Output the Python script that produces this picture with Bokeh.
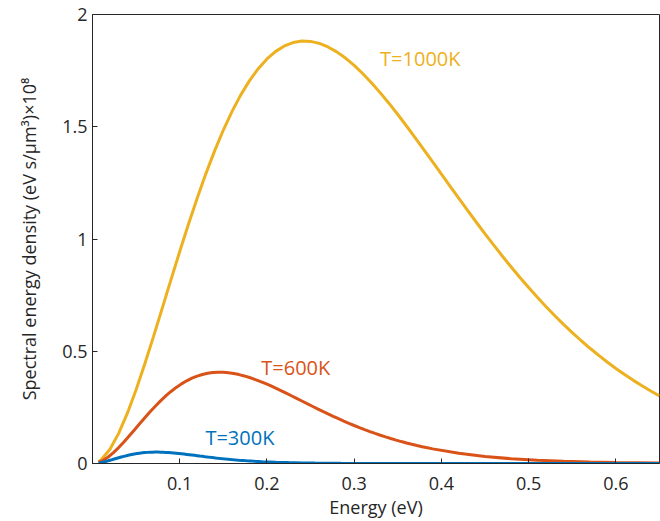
from bokeh.plotting import figure
from bokeh.models import FixedTicker, Range1d
from bokeh.core.properties import value
from bokeh.embed import file_html
from bokeh.resources import INLINE

# ---- data ----
e_1000 = [0.007, 0.01, 0.02, 0.03, 0.04, 0.05, 0.06, 0.07, 0.08, 0.09, 0.10,
          0.11, 0.12, 0.13, 0.14, 0.15, 0.16, 0.17, 0.18, 0.19, 0.20,
          0.21, 0.22, 0.23, 0.24, 0.25, 0.26, 0.27, 0.28, 0.29, 0.30,
          0.31, 0.32, 0.33, 0.34, 0.35, 0.36, 0.37, 0.38, 0.39, 0.40,
          0.41, 0.42, 0.43, 0.44, 0.45, 0.46, 0.47, 0.48, 0.49, 0.50,
          0.51, 0.52, 0.53, 0.54, 0.55, 0.56, 0.57, 0.58, 0.59, 0.60,
          0.61, 0.62, 0.63, 0.64, 0.65]
u_1000 = [0.0084, 0.0168, 0.0634, 0.1342, 0.2242, 0.3289, 0.4441, 0.5663, 0.6922, 0.8190, 0.9442,
          1.0657, 1.1819, 1.2913, 1.3927, 1.4854, 1.5686, 1.6420, 1.7055, 1.7588, 1.8021,
          1.8357, 1.8599, 1.8750, 1.8816, 1.8802, 1.8713, 1.8555, 1.8336, 1.8059, 1.7733,
          1.7362, 1.6952, 1.6509, 1.6039, 1.5545, 1.5034, 1.4509, 1.3974, 1.3433, 1.2890,
          1.2347, 1.1807, 1.1273, 1.0746, 1.0230, 0.9724, 0.9231, 0.8751, 0.8286, 0.7836,
          0.7402, 0.6984, 0.6583, 0.6199, 0.5831, 0.5479, 0.5144, 0.4825, 0.4522, 0.4234,
          0.3962, 0.3703, 0.3460, 0.3229, 0.3012]

e_600 = [0.007, 0.012, 0.018, 0.024, 0.030, 0.036, 0.042, 0.048, 0.054, 0.060,
         0.066, 0.072, 0.078, 0.084, 0.090, 0.096, 0.102, 0.108, 0.114, 0.120,
         0.126, 0.132, 0.138, 0.144, 0.150, 0.156, 0.162, 0.168, 0.174, 0.180,
         0.186, 0.192, 0.198, 0.204, 0.210, 0.216, 0.222, 0.228, 0.234, 0.240,
         0.246, 0.252, 0.258, 0.264, 0.270, 0.276, 0.282, 0.288, 0.294, 0.300,
         0.306, 0.312, 0.318, 0.324, 0.330, 0.336, 0.342, 0.348, 0.354, 0.360,
         0.366, 0.372, 0.378, 0.384, 0.390, 0.42, 0.45, 0.48, 0.51, 0.54,
         0.57, 0.60, 0.65]
u_600 = [0.0049, 0.01369, 0.02898, 0.04842, 0.07103, 0.09593, 0.12233, 0.14952, 0.17690, 0.20394,
         0.23019, 0.25528, 0.27891, 0.30082, 0.32084, 0.33882, 0.35468, 0.36838, 0.37989, 0.38925,
         0.39652, 0.40173, 0.40499, 0.40642, 0.40611, 0.40419, 0.40079, 0.39605, 0.39007, 0.38302,
         0.37500, 0.36616, 0.35659, 0.34643, 0.33577, 0.32473, 0.31338, 0.30183, 0.29016, 0.27842,
         0.26669, 0.25503, 0.24349, 0.23212, 0.22096, 0.21003, 0.19938, 0.18902, 0.17897, 0.16926,
         0.15989, 0.15086, 0.14220, 0.13389, 0.12594, 0.11835, 0.11111, 0.10422, 0.09767, 0.09146,
         0.08557, 0.07999, 0.07473, 0.06975, 0.06506, 0.04548, 0.03130, 0.02127, 0.01428, 0.00949,
         0.00625, 0.00408, 0.00197]

e_300 = [0.007, 0.009, 0.012, 0.015, 0.018, 0.021, 0.024, 0.027, 0.030,
         0.033, 0.036, 0.039, 0.042, 0.045, 0.048, 0.051, 0.054, 0.057, 0.060,
         0.063, 0.066, 0.069, 0.072, 0.075, 0.078, 0.081, 0.084, 0.087, 0.090,
         0.093, 0.096, 0.099, 0.102, 0.105, 0.108, 0.111, 0.114, 0.117, 0.120,
         0.123, 0.126, 0.129, 0.132, 0.135, 0.138, 0.141, 0.144, 0.147, 0.150,
         0.153, 0.156, 0.159, 0.162, 0.165, 0.168, 0.171, 0.174, 0.177, 0.180,
         0.183, 0.186, 0.189, 0.192, 0.195, 0.21, 0.225, 0.24, 0.255, 0.27,
         0.285, 0.30, 0.325, 0.40, 0.50, 0.65]
u_300 = [0.00228, 0.003622, 0.006053, 0.008880, 0.011992, 0.015291, 0.018690, 0.022113, 0.025493,
         0.028775, 0.031911, 0.034864, 0.037603, 0.040105, 0.042352, 0.044335, 0.046048, 0.047487, 0.048658,
         0.049565, 0.050217, 0.050625, 0.050803, 0.050765, 0.050525, 0.050099, 0.049506, 0.048760, 0.047878,
         0.046876, 0.045770, 0.044574, 0.043304, 0.041972, 0.040592, 0.039173, 0.037730, 0.036270, 0.034803,
         0.033336, 0.031879, 0.030437, 0.029015, 0.027620, 0.026254, 0.024923, 0.023628, 0.022372, 0.021158,
         0.019986, 0.018858, 0.017775, 0.016736, 0.015743, 0.014794, 0.013889, 0.013028, 0.012209, 0.011432,
         0.010696, 0.009999, 0.009341, 0.008719, 0.008133, 0.005684, 0.003913, 0.002659, 0.001785, 0.001186,
         0.000781, 0.000510, 0.000246, 0.000025, 0.0, 0.0]

x_ticks = [0.1, 0.2, 0.3, 0.4, 0.5, 0.6]
x_tick_labels = ["0.1", "0.2", "0.3", "0.4", "0.5", "0.6"]
y_ticks = [0, 0.5, 1, 1.5, 2]
y_tick_labels = ["0", "0.5", "1", "1.5", "2"]

label_text = ["T=1000K", "T=600K", "T=300K"]
label_x = [0.3297, 0.1935, 0.1294]
label_y = [1.805, 0.4285, 0.117]

colors = ["#EDB120", "#D95319", "#0072BD"]
FONT = "Open Sans"
AX = "#262626"

p = figure(width=660, height=521, output_backend="svg", toolbar_location=None,
           x_range=Range1d(0, 0.65), y_range=Range1d(0, 2),
           min_border_left=92, min_border_right=1, min_border_top=14, min_border_bottom=58)

p.line(e_1000, u_1000, line_color=colors[0], line_width=3)
p.line(e_600, u_600, line_color=colors[1], line_width=3)
p.line(e_300, u_300, line_color=colors[2], line_width=3)

p.text(x=label_x, y=label_y, text=label_text, text_color=colors,
       text_font=value(FONT), text_font_size="20px",
       text_align="left", text_baseline="middle")

p.xgrid.visible = False
p.ygrid.visible = False
p.outline_line_color = AX
p.outline_line_width = 1
p.background_fill_color = "white"
p.border_fill_color = "white"

p.xaxis.ticker = FixedTicker(ticks=x_ticks)
p.xaxis.major_label_overrides = dict(zip(x_ticks, x_tick_labels))
p.yaxis.ticker = FixedTicker(ticks=y_ticks)
p.yaxis.major_label_overrides = dict(zip(y_ticks, y_tick_labels))

for ax in (p.xaxis[0], p.yaxis[0]):
    ax.axis_line_color = AX
    ax.major_tick_line_color = AX
    ax.major_tick_in = 5
    ax.major_tick_out = 0
    ax.minor_tick_line_color = None
    ax.major_label_text_font = FONT
    ax.major_label_text_font_size = "18px"
    ax.major_label_text_color = AX
    ax.axis_label_text_font = FONT
    ax.axis_label_text_font_size = "18px"
    ax.axis_label_text_font_style = "normal"
    ax.axis_label_text_color = AX

p.xaxis.axis_label = "Energy (eV)"
p.yaxis.axis_label = "Spectral energy density (eV s/\u03bcm\u00b3)\u00d710\u2078"
p.xaxis.major_label_standoff = 13
p.xaxis.axis_label_standoff = 2
p.yaxis.major_label_standoff = 5
p.yaxis.axis_label_standoff = 18

open("out.html", "w").write(file_html(p, INLINE))
